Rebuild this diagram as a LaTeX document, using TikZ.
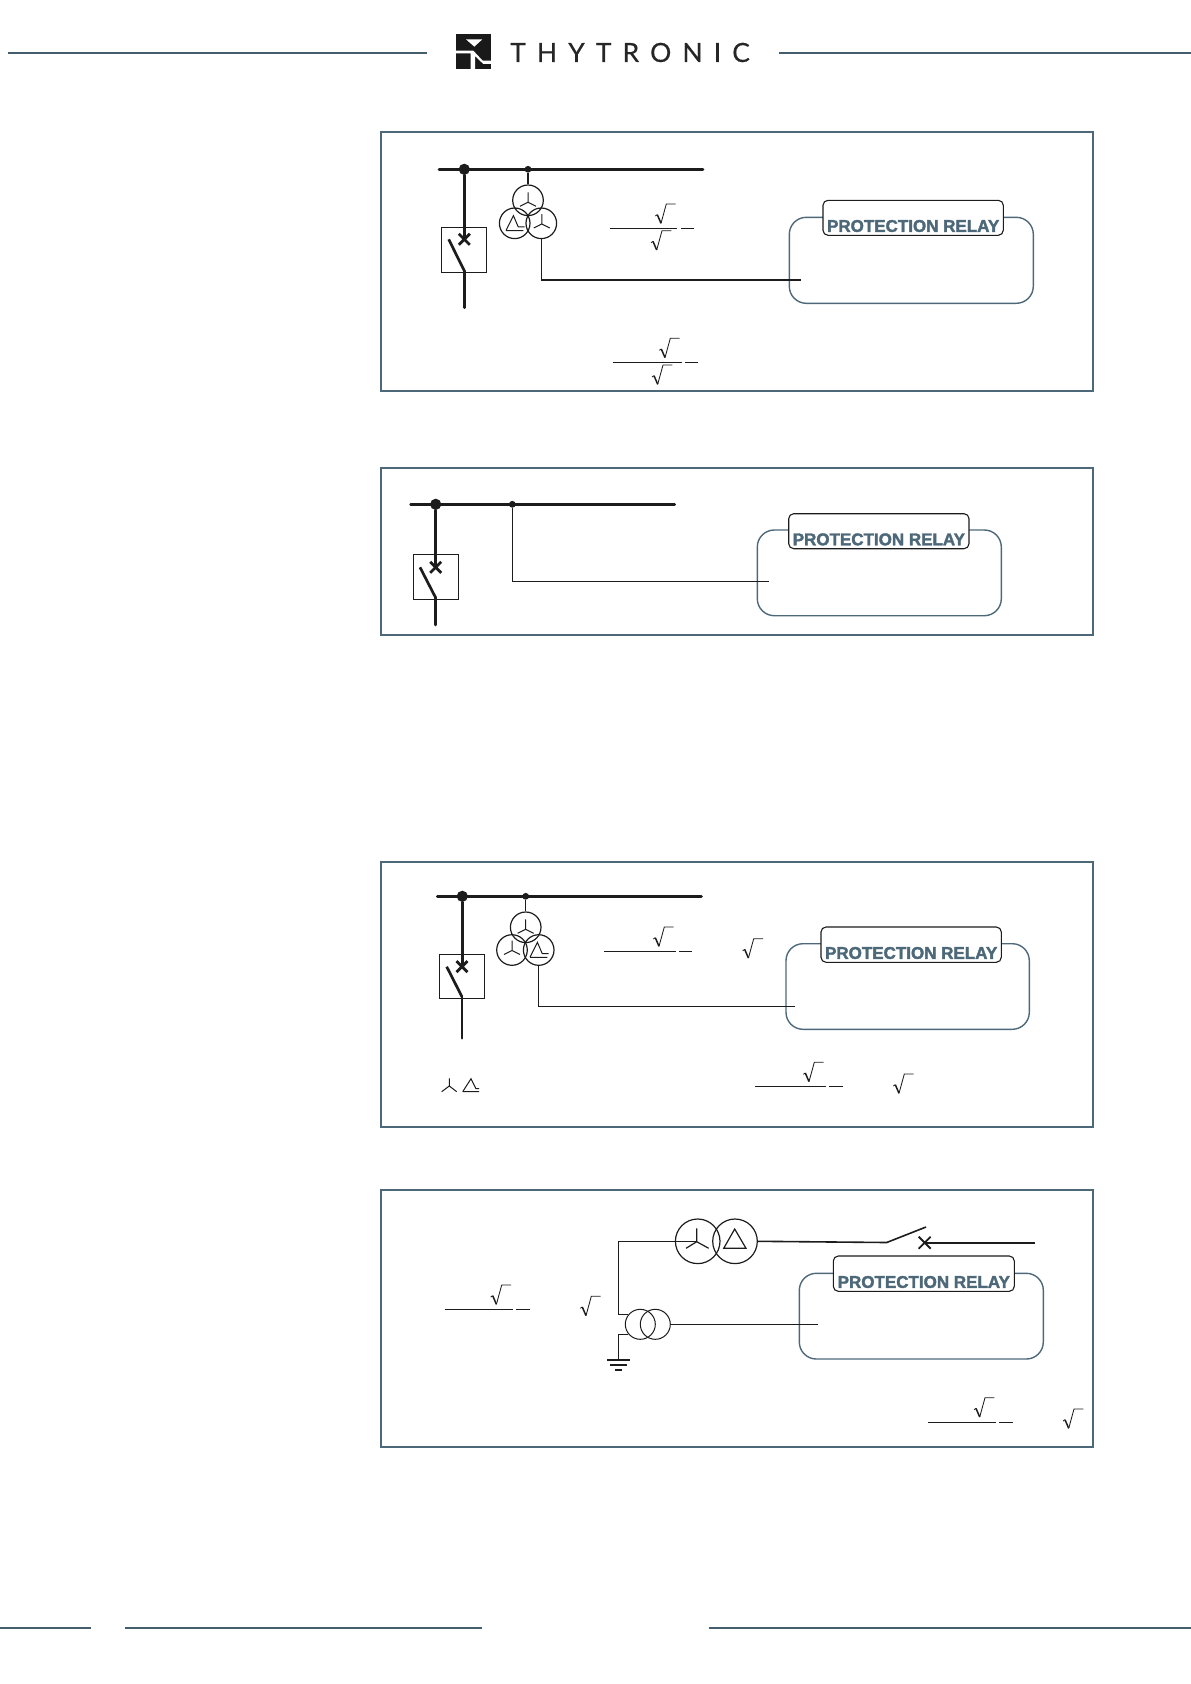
\documentclass[tikz,border=0pt]{standalone}
\usepackage{fontspec}
\setmainfont{Liberation Sans}
\newfontfamily\logofont[LetterSpace=41.8,FakeBold=0.4]{Lato}
\newfontfamily\relayfont[FakeBold=2]{Liberation Sans Bold}
\definecolor{steel}{HTML}{4D6879}
\definecolor{ink}{HTML}{1C1C1C}
\tikzset{
  x=1pt,y=-1pt,
  rule/.style={draw=steel!90!black,line width=2pt},
  panel/.style={draw=steel,line width=2.2pt},
  bus/.style={draw=ink,line width=2.9pt,line cap=round},
  feeder/.style={draw=ink,line width=2.7pt,line cap=round},
  lead/.style={draw=ink,line width=1.2pt},
  thinlead/.style={draw=ink,line width=1pt},
  boxline/.style={draw=ink,line width=0.9pt},
  bigdot/.style={circle,fill=ink,inner sep=0pt,minimum size=11.2pt},
  smalldot/.style={circle,fill=ink,inner sep=0pt,minimum size=6.8pt},
  coil/.style={circle,draw=ink,line width=1.2pt,inner sep=0pt,minimum size=30.6pt},
  bigcoil/.style={circle,draw=ink,line width=1.2pt,inner sep=0pt,minimum size=44.6pt},
  ctcoil/.style={circle,draw=ink,line width=1pt,inner sep=0pt,minimum size=30pt},
  relayouter/.style={draw=steel,line width=1.4pt,rounded corners=17pt},
  relaytitle/.style={draw=ink,fill=white,line width=1.1pt,rounded corners=5pt},
  relaytext/.style={text=steel,font=\relayfont\fontsize{17}{18}\selectfont,inner sep=0pt},
  fracline/.style={draw=ink,line width=0.95pt},
  rootthin/.style={draw=ink,line width=0.85pt},
  rootthick/.style={draw=ink,line width=1.5pt},
  symline/.style={draw=ink,line width=1pt},
  wye/.pic={\draw[symline] (0,0)--(0,-10) (0,0)--(-8,4) (0,0)--(8,4);},
  delta/.pic={\draw[symline] (-8.7,7.3)--(-1.3,-7.7)--(3.5,3.5)--(10,3.5) (-8.7,7.3)--(8.7,7.3);},
  rootmark/.pic={\draw[rootthin] (0,12)--(2,10.7) (5.7,19.3)--(11,0)--(20.3,0);
                 \draw[rootthick] (2,10.7)--(5.7,19.3);},
}
\newcommand{\relayunit}[9]{% name, outer x1,y1,x2,y2, title x1,y1,x2,y2
  \draw[relayouter] (#2,#3) rectangle (#4,#5);
  \draw[relaytitle] (#6,#7) rectangle (#8,#9);
  \node[relaytext] (#1) at ({(#6+#8)/2},{#9-9.3}) {PROTECTION RELAY};
}
\newcommand{\breakerunit}[7]{% name, x, box x1, y1(box top), y bottom box, blade start x, y X
  \draw[boxline] (#3,#4) rectangle ({#3+45.4},#5);
  \draw[feeder,line cap=butt] (#6,#7)--(#2,{#5-1.5});
  \draw[feeder,line cap=butt,line width=2.8pt] ({#2-5.5},{#7-5.5})--({#2+5.5},{#7+5.5}) ({#2+5.5},{#7-5.5})--({#2-5.5},{#7+5.5});
}
\begin{document}
\begin{tikzpicture}
\useasboundingbox (0,0) rectangle (1191,1684);
% header
\draw[rule] (8,52.7)--(427,52.7);
\draw[rule] (779.3,52.7)--(1191,52.7);
\begin{scope}[shift={(440,20)},x=0.3333pt,y=-0.3333pt]
  \fill[black!90] (47,42) rectangle (153,148);
  \fill[white] (78,58)--(127,58)--(103,80)--cycle;
  \fill[white] (47,92)--(100,92)--(128,122)--(153,122)--(153,132)--(130,132)--(105,108)--(105,148)--(92,148)--(92,100)--(47,100)--cycle;
\end{scope}
\node[anchor=west,inner sep=0pt,text=black!85,font=\logofont\fontsize{26.5}{28}\selectfont] (logo) at (510,52.5) {THYTRONIC};
% footer
\draw[rule] (0,1628)--(91,1628);
\draw[rule] (125.3,1628)--(482.3,1628);
\draw[rule] (708.7,1628)--(1191,1628);

% ---------- panel 1
\draw[panel] (380.7,132) rectangle (1092.7,390.7);
\draw[bus] (439,169.3)--(703,169.3);
\node[bigdot] (a1) at (464.3,169.3) {};
\node[smalldot] (a2) at (528,169.3) {};
\coordinate (a1x) at (464.3,239.3);
\draw[feeder] (a1)--(a1x);
\breakerunit{a}{464.3}{441.3}{227.3}{272.3}{448.7}{239.3}
\coordinate (a1e) at (464.3,307.7);
\draw[feeder] (464.3,270.7)--(a1e);
\node[coil] (a3) at (528,200.3) {};
\node[coil] (a4) at (514.7,223.3) {};
\node[coil] (a5) at (541.3,223.3) {};
\draw[lead] (a2)--(a3);
\pic at (528,202.3) {wye};
\pic at (541.8,224) {wye};
\pic at (514.7,223.3) {delta};
\relayunit{r1}{789.3}{217.3}{1033.3}{303.3}{823}{200.3}{1003.3}{235.3}
\coordinate (a6) at (801,280);
\draw[lead,line width=1.6pt] (a5.south)|-(a6);
\draw[fracline] (610,228.3)--(677.3,228.3) (681,228.3)--(694,228.3);
\pic at (655.3,204) {rootmark};
\pic at (651,230.7) {rootmark};
\draw[fracline] (613.3,362.3)--(681.7,362.3) (685,362.3)--(698,362.3);
\pic at (659.3,338.3) {rootmark};
\pic at (652,365) {rootmark};

% ---------- panel 2
\draw[panel] (380.7,468.3) rectangle (1093.3,635.2);
\draw[bus] (410.7,504.3)--(674.7,504.3);
\node[bigdot] (b1) at (435.7,504.3) {};
\node[smalldot] (b2) at (512.3,504.3) {};
\coordinate (b1x) at (435.7,567.3);
\draw[feeder] (b1)--(b1x);
\breakerunit{b}{435.7}{413.3}{554.3}{599.3}{420}{567.3}
\coordinate (b1e) at (435.7,625);
\draw[feeder] (435.7,597.3)--(b1e);
\relayunit{r2}{757.3}{530}{1001.3}{615.7}{788.7}{513.7}{969}{548.7}
\coordinate (b3) at (768.7,581.3);
\draw[thinlead] (b2)|-(b3);

% ---------- panel 3
\draw[panel] (380.7,862) rectangle (1093.3,1126.7);
\draw[bus] (437.3,896.3)--(701.3,896.3);
\node[bigdot] (c1) at (462.3,896.3) {};
\node[smalldot] (c2) at (525.7,896.3) {};
\coordinate (c1x) at (462.3,966.7);
\draw[feeder] (c1)--(c1x);
\breakerunit{c}{462}{439.3}{954.3}{998.3}{446.7}{966.7}
\coordinate (c1e) at (462,1038.3);
\draw[feeder] (462,996.7)--(c1e);
\node[coil] (c3) at (525.7,927.3) {};
\node[coil] (c4) at (512,950) {};
\node[coil] (c5) at (538.7,950) {};
\draw[thinlead] (c2)--(c3);
\pic at (525.7,929.3) {wye};
\pic at (512,950.5) {wye};
\pic at (538.7,950) {delta};
\relayunit{r3}{786}{943.7}{1029.3}{1029.3}{821}{927}{1001.3}{962.3}
\coordinate (c6) at (795,1006);
\draw[thinlead] (c5.south)|-(c6);
\draw[fracline] (604,951)--(675.7,951) (679,951)--(692,951);
\pic at (653.3,927) {rootmark};
\pic at (742.7,938.7) {rootmark};
\draw[fracline] (755,1086)--(826,1086) (829,1086)--(842.7,1086);
\pic at (803.3,1062.3) {rootmark};
\pic at (893.3,1074) {rootmark};
\draw[symline] (449.3,1086)--(449.3,1078.3) (449.3,1086)--(441.7,1091.7) (449.3,1086)--(456.7,1091.7);
\draw[symline] (462.7,1091.7)--(479,1091.7) (462.7,1091.7)--(471,1078.7)--(476,1088.7)--(479,1088.7);

% ---------- panel 4
\draw[panel] (380.7,1190) rectangle (1093.3,1447.3);
\node[bigcoil] (d1) at (697.7,1241.3) {};
\node[bigcoil] (d2) at (735,1241.3) {};
\draw[symline,line width=1.2pt] (696.7,1241.7)--(696.7,1228.3) (696.7,1241.7)--(686,1248.3) (696.7,1241.7)--(708.7,1248.3);
\draw[symline,line width=1.2pt] (723.7,1248.3)--(746,1248.3)--(734.7,1229)--cycle;
\node[ctcoil] (d3) at (640.3,1324.3) {};
\node[ctcoil] (d4) at (655.3,1324.3) {};
\coordinate (d1c) at (696.7,1241.3);
\coordinate (d1b) at (618.3,1241.3);
\coordinate (d1d) at (618.3,1314.7);
\coordinate (d3w) at (628.3,1314.7);
\draw[lead,line width=1.4pt] (d1c)--(d1b)--(d1d)--(d3w);
\coordinate (d3g) at (628.3,1334.3);
\coordinate (d5) at (618.3,1359.3);
\draw[thinlead] (d3g)-|(d5);
\draw[draw=ink,line width=1.6pt] (607,1360)--(630,1360);
\draw[draw=ink,line width=1.6pt] (610.3,1364.7)--(626.7,1364.7);
\draw[draw=ink,line width=1.6pt] (615,1369.7)--(622,1369.7);
\coordinate (d6) at (886.7,1242.5);
\coordinate (d7) at (926,1227);
\draw[lead,line width=1.6pt] (d2.east)--(d6)--(d7);
\coordinate (d8) at (924.7,1242.7);
\coordinate (d9) at (1035,1242.7);
\draw[lead,line width=1.8pt] (d8)--(d9);
\draw[lead,line width=1.8pt] (918.7,1236.7)--(930.7,1248.7) (930.7,1236.7)--(918.7,1248.7);
\relayunit{r4}{799.3}{1273.3}{1043.3}{1359}{833.3}{1256}{1014.3}{1291.3}
\coordinate (d10) at (818,1324.3);
\draw[thinlead] (d4.east)--(d10);
\draw[fracline] (445,1309)--(512.7,1309) (516,1309)--(530,1309);
\pic at (490.7,1285) {rootmark};
\pic at (580.3,1296.3) {rootmark};
\draw[fracline] (928,1422)--(996,1422) (999.3,1422)--(1013,1422);
\pic at (974,1397.7) {rootmark};
\pic at (1063,1409) {rootmark};
\end{tikzpicture}
\end{document}
